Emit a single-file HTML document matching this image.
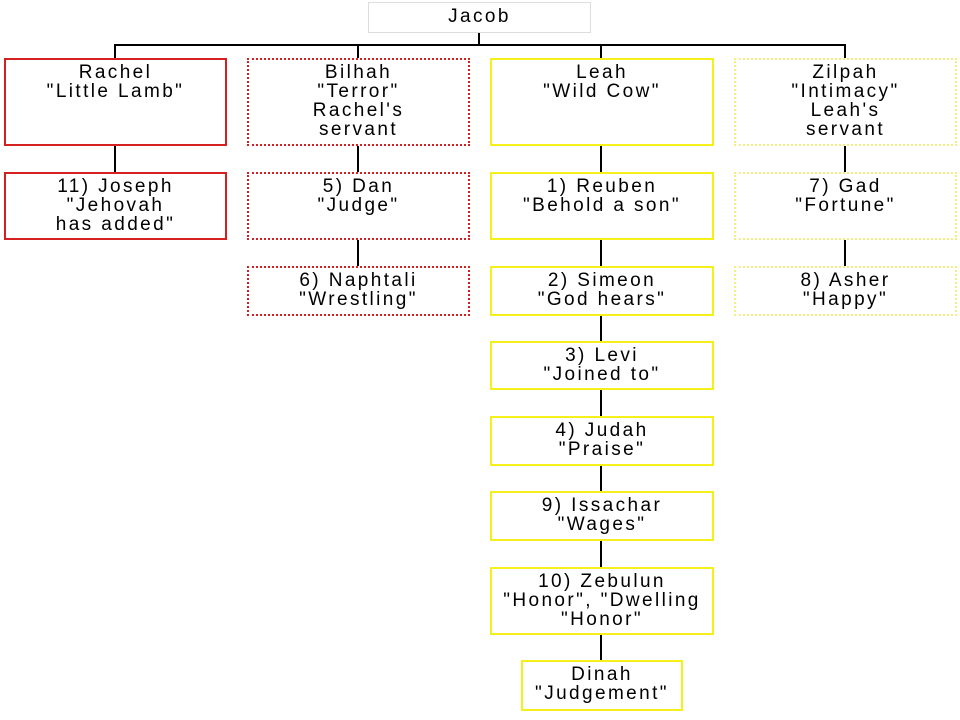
<!DOCTYPE html>
<html><head><style>
body{margin:0;width:960px;height:720px;background:#fff;position:relative;overflow:hidden;font-family:"Liberation Sans",Arial,sans-serif;}
.b{position:absolute;box-sizing:border-box;text-align:center;font-size:19px;line-height:19px;letter-spacing:2.4px;padding-top:3px;color:#000;background:#fff;white-space:nowrap;}
.r{border:2px solid #d42020;}
.rd{border:2px dotted #d42020;}
.y{border:2px solid #f5f01a;}
.yd{border:2px dotted #f2ef80;}
.l{position:absolute;background:#000;}
</style></head><body>
<div class="l" style="left:478px;top:32px;width:2px;height:14px"></div>
<div class="l" style="left:114px;top:44px;width:732px;height:2px"></div>
<div class="l" style="left:114px;top:44px;width:2px;height:14px"></div>
<div class="l" style="left:357px;top:44px;width:2px;height:14px"></div>
<div class="l" style="left:600px;top:44px;width:2px;height:14px"></div>
<div class="l" style="left:844px;top:44px;width:2px;height:14px"></div>
<div class="l" style="left:114px;top:145px;width:2px;height:27px"></div>
<div class="l" style="left:357px;top:145px;width:2px;height:121px"></div>
<div class="l" style="left:600px;top:145px;width:2px;height:515px"></div>
<div class="l" style="left:844px;top:145px;width:2px;height:121px"></div>

<div class="b" style="left:368px;top:2px;width:223px;height:31px;border:1px solid #ddd;padding-top:4px">Jacob</div>

<div class="b r" style="left:4px;top:58px;width:223px;height:88px">Rachel<br>"Little Lamb"</div>
<div class="b rd" style="left:247px;top:58px;width:223px;height:88px">Bilhah<br>"Terror"<br>Rachel's<br>servant</div>
<div class="b y" style="left:490px;top:58px;width:224px;height:88px">Leah<br>"Wild Cow"</div>
<div class="b yd" style="left:734px;top:58px;width:223px;height:88px">Zilpah<br>"Intimacy"<br>Leah's<br>servant</div>

<div class="b r" style="left:4px;top:172px;width:223px;height:68px">11) Joseph<br>"Jehovah<br>has added"</div>
<div class="b rd" style="left:247px;top:172px;width:223px;height:68px">5) Dan<br>"Judge"</div>
<div class="b y" style="left:490px;top:172px;width:224px;height:68px">1) Reuben<br>"Behold a son"</div>
<div class="b yd" style="left:734px;top:172px;width:223px;height:68px">7) Gad<br>"Fortune"</div>

<div class="b rd" style="left:247px;top:266px;width:223px;height:50px">6) Naphtali<br>"Wrestling"</div>
<div class="b y" style="left:490px;top:266px;width:224px;height:50px">2) Simeon<br>"God hears"</div>
<div class="b yd" style="left:734px;top:266px;width:223px;height:50px">8) Asher<br>"Happy"</div>

<div class="b y" style="left:490px;top:341px;width:224px;height:49px">3) Levi<br>"Joined to"</div>
<div class="b y" style="left:490px;top:416px;width:224px;height:50px">4) Judah<br>"Praise"</div>
<div class="b y" style="left:490px;top:491px;width:224px;height:50px">9) Issachar<br>"Wages"</div>
<div class="b y" style="left:490px;top:567px;width:224px;height:68px">10) Zebulun<br>"Honor", "Dwelling<br>"Honor"</div>
<div class="b y" style="left:521px;top:660px;width:162px;height:51px">Dinah<br>"Judgement"</div>
</body></html>
